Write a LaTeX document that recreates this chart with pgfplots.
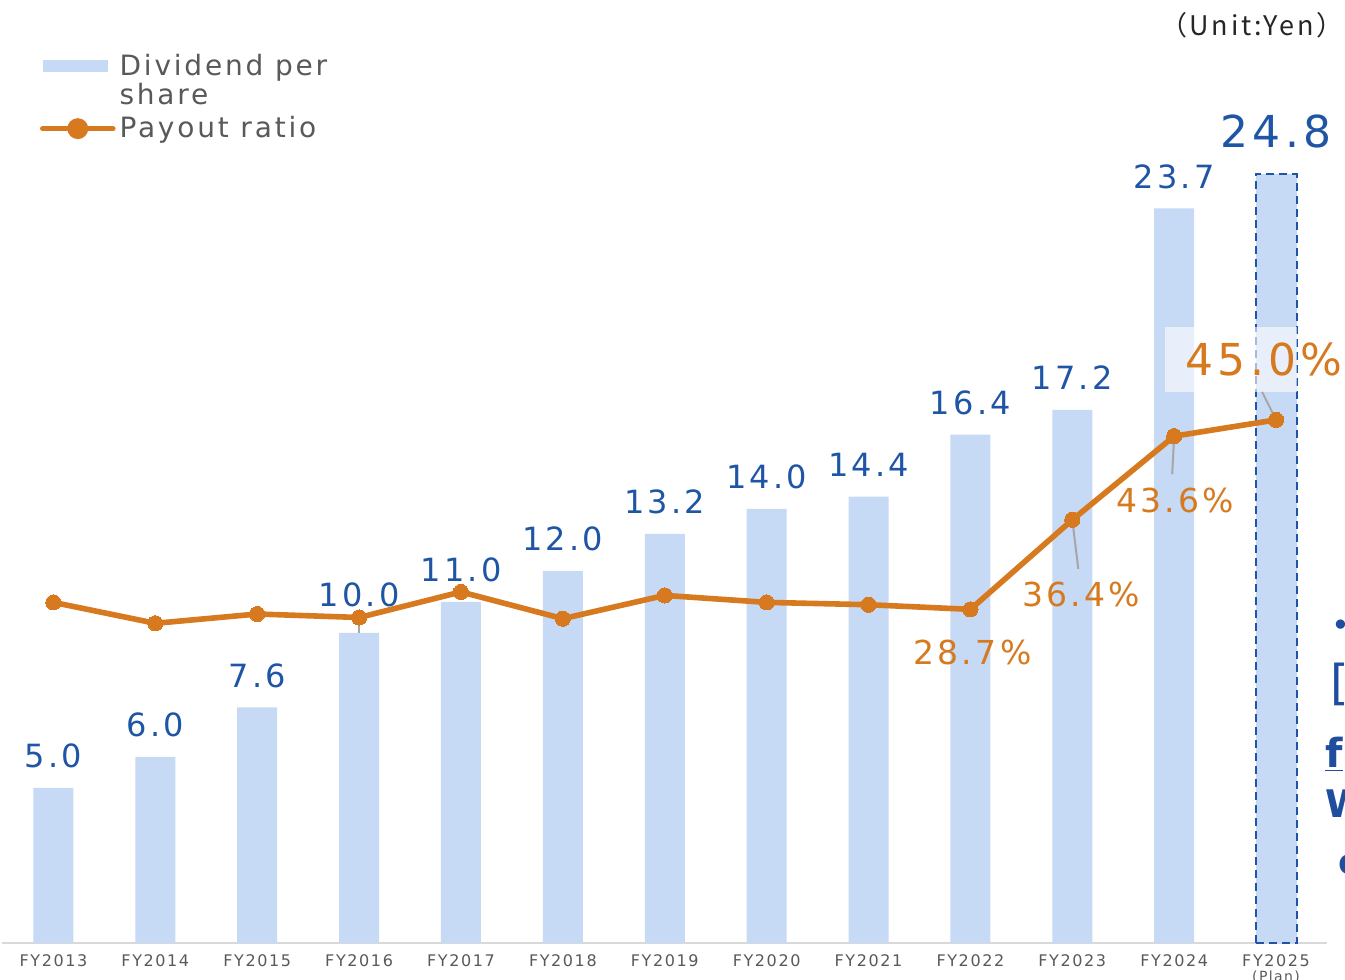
\documentclass[border=0pt]{standalone}
\usepackage{pgfplots}
\pgfplotsset{compat=1.18}
\usepackage{fontspec}
\setmainfont{DejaVu Sans}[LetterSpace=10]
\newfontfamily\jp{Noto Sans CJK JP}[LetterSpace=10]
\definecolor{barblue}{RGB}{198,217,245}
\definecolor{lblue}{RGB}{31,85,165}
\definecolor{orng}{RGB}{214,121,31}
\definecolor{tickgray}{RGB}{89,89,89}
\definecolor{axgray}{RGB}{217,217,217}
\definecolor{leadgray}{RGB}{166,166,166}
\definecolor{fragblue}{RGB}{31,78,159}
\pgfplotsset{myax/.style={scale only axis, width=662.25pt, height=465pt,
  at={(1.25pt,18.5pt)}, anchor=south west, xmin=-0.5, xmax=12.5, clip=false,
  /pgf/number format/assume math mode=true}}
\begin{document}
\begin{tikzpicture}
\begin{axis}[myax, ymin=0, ymax=30,
  axis x line=bottom, axis y line=none,
  x axis line style={-, draw=axgray, line width=1pt},
  ytick=\empty, xtick={0,...,12}, major tick length=0pt,
  xticklabels={FY2013,FY2014,FY2015,FY2016,FY2017,FY2018,FY2019,FY2020,FY2021,FY2022,FY2023,FY2024,{FY2025\\{\fontsize{7}{7}\selectfont(Plan)}}},
  xticklabel style={font=\fontsize{8}{7.5}\selectfont, text=tickgray, align=center, anchor=north, inner sep=0pt, yshift=-5.5pt},
  legend style={at={(axis description cs:0.028,0.9605)}, anchor=north west, draw=none, fill=none,
    font=\fontsize{14}{13.5}\selectfont, text=tickgray, cells={anchor=west, align=left},
    inner sep=0pt, row sep=0.5pt},
]
\addplot[ybar, bar width=20pt, bar shift=0pt, fill=barblue, draw=none,
  nodes near coords={\pgfmathprintnumber[fixed,fixed zerofill,precision=1]{\pgfplotspointmeta}},
  every node near coord/.append style={font=\fontsize{16}{16}\selectfont, text=lblue, anchor=base, yshift=10pt},
  coordinate style/.condition={x==3}{yshift=3pt},
  legend image code/.code={\fill[barblue] (0pt,4.25pt) rectangle (32.5pt,10.25pt);}]
 coordinates {(0,5.0)(1,6.0)(2,7.6)(3,10.0)(4,11.0)(5,12.0)(6,13.2)(7,14.0)(8,14.4)(9,16.4)(10,17.2)(11,23.7)};
\addlegendentry{Dividend per\\share}
\addplot[ybar, bar width=20.5pt, bar shift=0pt, fill=barblue, draw=lblue, line width=1pt,
  dash pattern=on 4pt off 2.5pt, forget plot,
  nodes near coords={\pgfmathprintnumber[fixed,fixed zerofill,precision=1]{\pgfplotspointmeta}},
  every node near coord/.append style={font=\fontsize{22}{22}\selectfont, text=lblue, anchor=base, yshift=13.5pt, solid}]
 coordinates {(12,24.8)};
\draw[leadgray, line width=1pt] (axis cs:3,10) -- ([yshift=7.5pt]axis cs:3,10);
\addlegendimage{orng, line width=2.8pt,
  legend image code/.code={\draw[orng, line width=2.8pt, line cap=round] (0pt,0pt)--(35pt,0pt); \fill[orng] (17.5pt,0pt) circle (3.8pt);}}
\addlegendentry{Payout ratio}
\end{axis}
\begin{axis}[myax, ymin=0, ymax=80, hide axis]
\draw[leadgray, line width=1pt] (axis cs:10,36.4) -- ([xshift=3pt,yshift=-24.5pt]axis cs:10,36.4);
\draw[leadgray, line width=1pt] (axis cs:11,43.6) -- ([xshift=-1pt,yshift=-19pt]axis cs:11,43.6);
\fill[white, opacity=0.6] ([xshift=-55.5pt,yshift=14pt]axis cs:12,45) rectangle ([xshift=10.5pt,yshift=46.5pt]axis cs:12,45);
\draw[leadgray, line width=1pt] ([xshift=-7pt,yshift=14pt]axis cs:12,45) -- ([xshift=-0.5pt,yshift=1pt]axis cs:12,45);
\addplot[orng, line width=2.8pt, line join=round, mark=*, mark size=3.8pt, mark options={fill=orng, draw=orng, line width=0pt}]
 coordinates {(0,29.3)(1,27.5)(2,28.3)(3,28.0)(4,30.2)(5,27.9)(6,29.9)(7,29.3)(8,29.1)(9,28.7)(10,36.4)(11,43.6)(12,45.0)};
\addplot[draw=none, nodes near coords={\pgfmathprintnumber[fixed,fixed zerofill,precision=1]{\pgfplotspointmeta}\%},
  every node near coord/.append style={font=\fontsize{16.5}{16.5}\selectfont, text=orng, anchor=center, xshift=1pt, yshift=-21.5pt}]
 coordinates {(9,28.7)};
\addplot[draw=none, nodes near coords={\pgfmathprintnumber[fixed,fixed zerofill,precision=1]{\pgfplotspointmeta}\%},
  every node near coord/.append style={font=\fontsize{16.5}{16.5}\selectfont, text=orng, anchor=center, xshift=4.5pt, yshift=-37.5pt}]
 coordinates {(10,36.4)};
\addplot[draw=none, nodes near coords={\pgfmathprintnumber[fixed,fixed zerofill,precision=1]{\pgfplotspointmeta}\%},
  every node near coord/.append style={font=\fontsize{16.5}{16.5}\selectfont, text=orng, anchor=center, xshift=0.5pt, yshift=-32pt}]
 coordinates {(11,43.6)};
\addplot[draw=none, nodes near coords={\pgfmathprintnumber[fixed,fixed zerofill,precision=1]{\pgfplotspointmeta}\%},
  every node near coord/.append style={font=\fontsize{22}{22}\selectfont, text=orng, anchor=center, xshift=-6pt, yshift=30pt}]
 coordinates {(12,45.0)};
\end{axis}
\node[anchor=east, inner sep=0pt, font=\jp\fontsize{13.5}{13.5}\selectfont, text=black!85] at (672pt,477.5pt) {（Unit:Yen）};
\node[inner sep=0pt, text=fragblue, font=\fontsize{16}{16}\selectfont] at (670.5pt,176pt) {•};
\node[anchor=west, inner sep=0pt, text=fragblue, font=\fontsize{24}{24}\selectfont] at (665pt,148pt) {[};
\node[anchor=base west, inner sep=0pt, text=fragblue, font=\bfseries\fontsize{20}{20}\selectfont] at (662.5pt,106pt) {\underline{f}};
\node[anchor=base west, inner sep=0pt, text=fragblue, font=\bfseries\fontsize{19}{19}\selectfont] at (662.5pt,81pt) {W};
\node[anchor=base west, inner sep=0pt, text=fragblue, font=\bfseries\fontsize{18}{18}\selectfont] at (669pt,52.5pt) {c};
\pgfresetboundingbox
\path[use as bounding box] (0pt,0pt) rectangle (672.5pt,490pt);
\end{tikzpicture}
\end{document}
